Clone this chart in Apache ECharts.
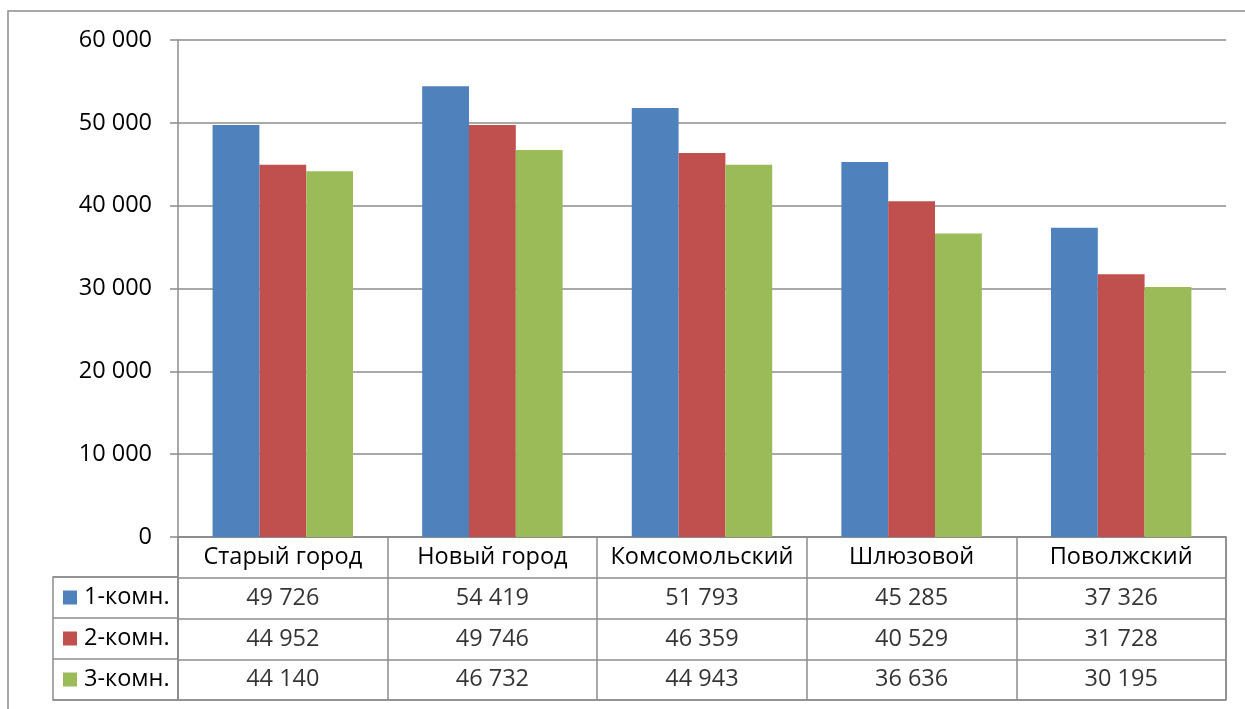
<!DOCTYPE html>
<html>
<head>
<meta charset="utf-8">
<script src="https://cdn.jsdelivr.net/npm/echarts@6/dist/echarts.min.js"></script>
<style>
  html, body { margin: 0; padding: 0; background: #fff; }
  #chart { width: 1245px; height: 709px; }
</style>
</head>
<body>
<div id="chart"></div>
<script>
  // районы и средние цены по числу комнат
  var categories = ['Старый город', 'Новый город', 'Комсомольский', 'Шлюзовой', 'Поволжский'];
  var seriesNames = ['1-комн.', '2-комн.', '3-комн.'];
  var room1 = [49726, 54419, 51793, 45285, 37326];
  var room2 = [44952, 49746, 46359, 40529, 31728];
  var room3 = [44140, 46732, 44943, 36636, 30195];
  var yTicks = [0, 10000, 20000, 30000, 40000, 50000, 60000];

  var colors = ['#4F81BD', '#C0504D', '#9BBB59'];
  var lineColor = '#8c8c8c';
  var font = '"Open Sans", sans-serif';
  var fs = 23.5;

  function fmt(v) {
    return String(v).replace(/\B(?=(\d{3})+(?!\d))/g, ' ');
  }

  var allSeries = [room1, room2, room3];

  // ячейки таблицы под графиком
  var tableCells = [];
  allSeries.forEach(function (arr, s) {
    arr.forEach(function (v, c) {
      tableCells.push([c, s + 1, v]);
    });
  });

  var rich = {};
  colors.forEach(function (c, i) {
    rich['s' + i] = {width: 14, height: 14, backgroundColor: c};
    rich['t' + i] = {fontSize: fs, fontFamily: font, color: '#000', padding: [0, 0, 0, 7]};
  });

  var myChart = echarts.init(document.getElementById('chart'));
  myChart.setOption({
    backgroundColor: '#fff',
    animation: false,
    textStyle: {fontFamily: font},
    graphic: [{
      type: 'rect',
      shape: {x: 8, y: 11, width: 1400, height: 900},
      style: {fill: 'none', stroke: lineColor, lineWidth: 1.5},
      silent: true
    }],
    grid: [
      {left: 178, right: 19, top: 40, bottom: 172},
      {left: 178, right: 19, top: 537, bottom: 9, show: true, borderColor: lineColor, borderWidth: 1.5},
      {left: 53, width: 125, top: 577, bottom: 9, show: true, borderColor: lineColor, borderWidth: 1.5}
    ],
    xAxis: [
      {
        gridIndex: 0, type: 'category', data: categories,
        axisLine: {lineStyle: {color: lineColor, width: 1.5}},
        axisTick: {show: false},
        axisLabel: {fontSize: fs, color: '#000', margin: 8, interval: 0}
      },
      {
        gridIndex: 1, type: 'category', data: categories,
        axisLine: {show: false}, axisTick: {show: false}, axisLabel: {show: false},
        splitLine: {show: true, interval: 0, lineStyle: {color: lineColor, width: 1.5}}
      },
      {gridIndex: 2, type: 'value', show: false}
    ],
    yAxis: [
      {
        gridIndex: 0, type: 'value', min: yTicks[0], max: yTicks[yTicks.length - 1], interval: 10000,
        axisLine: {show: true, lineStyle: {color: lineColor, width: 1.5}},
        axisTick: {show: true, length: 8, lineStyle: {color: lineColor, width: 1.5}},
        splitLine: {lineStyle: {color: lineColor, width: 1.5}},
        axisLabel: {fontSize: fs, color: '#000', margin: 26, formatter: function (v) { return fmt(v); }}
      },
      {
        gridIndex: 1, type: 'category', inverse: true, data: [''].concat(seriesNames),
        axisLine: {show: false}, axisTick: {show: false}, axisLabel: {show: false},
        splitLine: {show: true, interval: 0, lineStyle: {color: lineColor, width: 1.5}}
      },
      {
        gridIndex: 2, type: 'category', inverse: true, data: seriesNames,
        axisLine: {show: false}, axisTick: {show: false},
        splitLine: {show: true, interval: 0, lineStyle: {color: lineColor, width: 1.5}},
        axisLabel: {
          inside: true, margin: 10, align: 'left',
          formatter: function (v, i) { return '{s' + i + '|}{t' + i + '|' + v + '}'; },
          rich: rich
        }
      }
    ],
    series: allSeries.map(function (arr, i) {
      return {
        name: seriesNames[i], type: 'bar', xAxisIndex: 0, yAxisIndex: 0,
        data: arr, barGap: '0%', barCategoryGap: '33%',
        itemStyle: {color: colors[i]}
      };
    }).concat([{
      type: 'scatter', xAxisIndex: 1, yAxisIndex: 1, data: tableCells,
      symbolSize: 1, itemStyle: {color: 'rgba(0,0,0,0)'}, silent: true,
      label: {
        show: true, position: 'inside', color: '#000', fontSize: fs, fontFamily: font,
        formatter: function (p) { return fmt(p.value[2]); }
      }
    }])
  });
</script>
</body>
</html>
